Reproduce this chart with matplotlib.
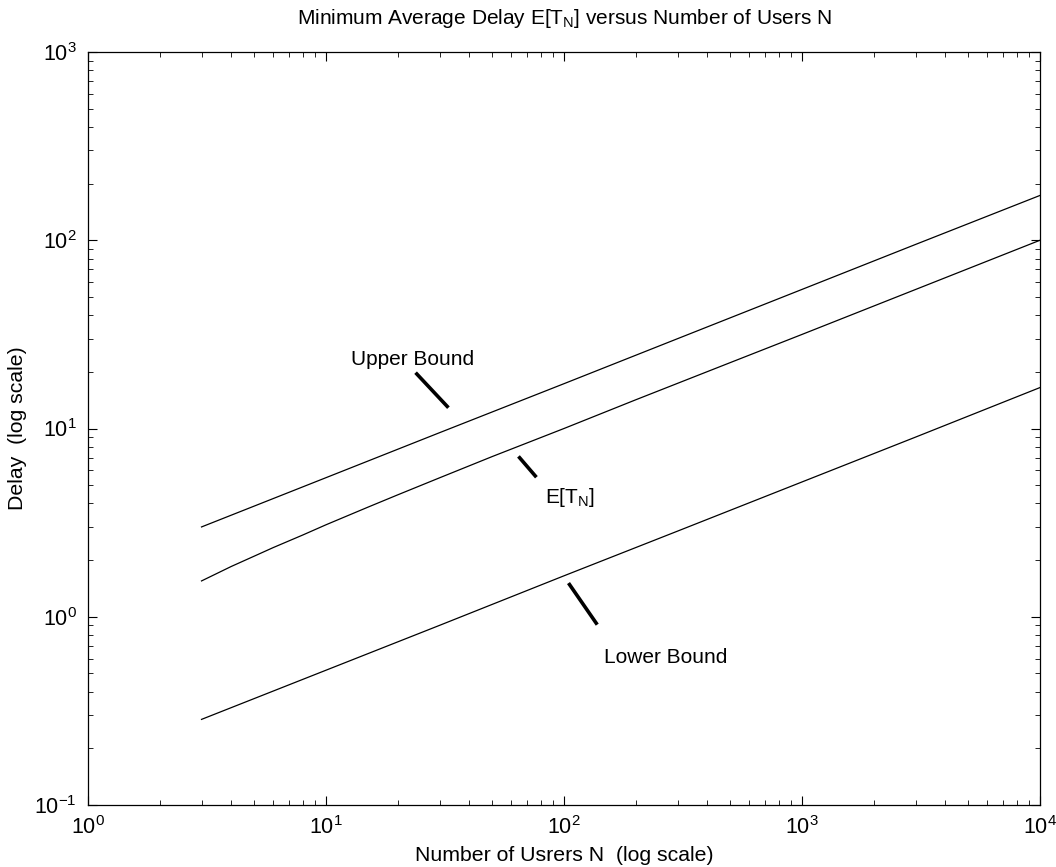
import matplotlib
matplotlib.use('Agg')
import matplotlib.pyplot as plt

# ---- data (log-log) ----
users = [3, 10, 30, 100, 300, 1000, 3000, 10000]
upper_bound = [3.0, 5.48, 9.5, 17.3, 30.0, 54.8, 95.0, 173.0]
lower_bound = [0.285, 0.52, 0.90, 1.65, 2.85, 5.2, 9.0, 16.5]

users_et = [3, 4, 5, 6, 8, 10, 15, 20, 30, 50, 100, 200, 500, 1000, 2000, 5000, 10000]
mean_delay = [1.55, 1.85, 2.1, 2.33, 2.72, 3.08, 3.82, 4.44, 5.47, 7.1, 10.0,
              14.2, 22.4, 31.6, 44.7, 70.7, 100.0]

# annotation ticks (x pair, y pair) in data units
ann_upper = ([23.8, 32.7], [19.8, 12.9])
ann_et = ([64.4, 76.6], [7.11, 5.51])
ann_lower = ([104.5, 138.0], [1.51, 0.908])

plt.rcParams['font.family'] = ['Liberation Sans', 'DejaVu Sans']
plt.rcParams['mathtext.fontset'] = 'custom'
plt.rcParams['mathtext.rm'] = 'Liberation Sans'
plt.rcParams['mathtext.it'] = 'Liberation Sans'

fig = plt.figure(figsize=(10.56, 8.67), dpi=100)
ax = fig.add_axes([0.0833, 0.0715, 0.9015, 0.8685])

ax.loglog(users, upper_bound, color='black', lw=0.9)
ax.loglog(users_et, mean_delay, color='black', lw=0.9)
ax.loglog(users, lower_bound, color='black', lw=0.9)

for xs, ys in (ann_upper, ann_et, ann_lower):
    ax.plot(xs, ys, color='black', lw=2.6, solid_capstyle='butt')

ax.text(12.7, 23.4, 'Upper Bound', fontsize=15, ha='left', va='center')
ax.text(83.6, 4.31, r'E[T$_\mathregular{N}$]', fontsize=15, ha='left', va='center')
ax.text(148, 0.607, 'Lower Bound', fontsize=15, ha='left', va='center')

ax.set_xlim(1, 1e4)
ax.set_ylim(0.1, 1e3)

ax.tick_params(which='both', direction='in', top=True, right=True, labelsize=15.5)
ax.tick_params(which='major', length=6.5, width=0.8, pad=8)
ax.tick_params(which='minor', length=3.6, width=0.6)
for s in ax.spines.values():
    s.set_linewidth(0.9)

ax.set_xlabel('Number of Usrers N  (log scale)', fontsize=15.3, labelpad=5)
ax.set_ylabel('Delay  (log scale)', fontsize=15.3, labelpad=5)
ax.set_title(r'Minimum Average Delay E[T$_\mathregular{N}$] versus Number of Users N',
             fontsize=15, pad=20)

fig.savefig('out.png', dpi=100)
